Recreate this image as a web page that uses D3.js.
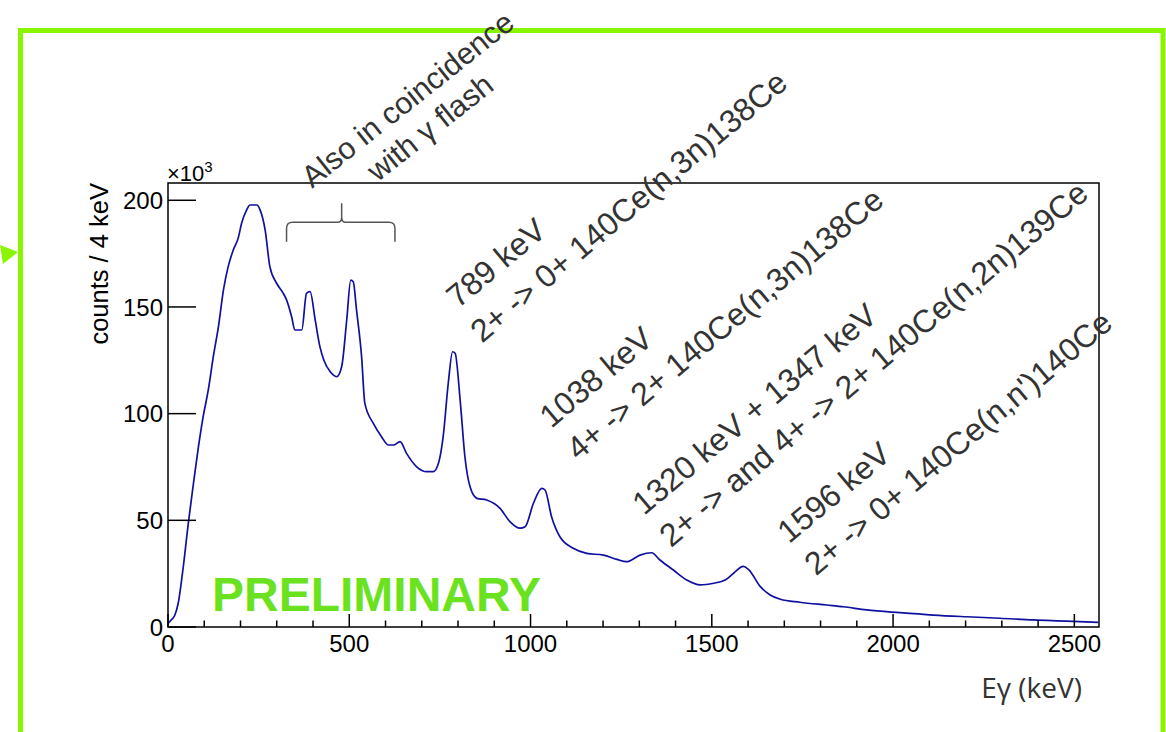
<!DOCTYPE html>
<html>
<head>
<meta charset="utf-8">
<script src="https://cdn.jsdelivr.net/npm/d3@7"></script>
<style>
  html, body { margin: 0; padding: 0; background: #ffffff; }
  svg { display: block; }
</style>
</head>
<body>
<svg id="chart" width="1166" height="732"></svg>
<script>
// ---------------- data (energy in keV, counts in units of 10^3 per 4 keV) ----------------
const energy = [0, 10, 19, 28, 42, 56, 70, 84, 97, 111, 125, 139, 153, 166, 180, 194, 203, 217, 226, 245,
  254, 268, 281, 300, 318, 327, 341, 350, 369, 382, 392, 406, 419, 430, 447, 465, 479, 493, 504, 511,
  520, 534, 543, 566, 589, 608, 622, 640, 658, 686, 714, 732, 746, 759, 773, 785, 792, 806, 819, 833,
  852, 879, 916, 943, 971, 985, 1008, 1031, 1040, 1058, 1081, 1118, 1155, 1201, 1238, 1265, 1302, 1334, 1357, 1394,
  1431, 1468, 1505, 1537, 1560, 1587, 1601, 1634, 1661, 1689, 1743, 1817, 1863, 1927, 2019, 2111, 2203, 2295, 2387, 2479, 2566];
const counts = [1.7, 3.5, 5.6, 11, 28, 48.6, 67, 84.5, 98.6, 111, 126.7, 140.7, 158, 168.9, 176.7, 182.5, 189.2, 195.5, 197.8, 197.8,
  195.5, 186, 168.9, 161, 156.4, 153.3, 145.4, 139.2, 139.2, 156.4, 157.2, 143.9, 131.4, 125, 119.7, 117.3, 122, 143.9, 162.6, 161.8,
  148.6, 126.7, 104.8, 95.5, 89.2, 85.3, 85.3, 86.9, 81.4, 75.1, 72.8, 72.8, 76.7, 89.2, 114.2, 129, 128.3, 106, 79.8, 65.8,
  60.3, 59.5, 55.6, 49.4, 46.3, 47, 58, 65, 64.2, 51.7, 42.3, 36.9, 34.5, 33.7, 31.7, 30.6, 33.7, 34.8, 31.4, 26.7,
  22, 19.7, 20.5, 22, 25.2, 28.4, 27, 18.9, 15, 13, 11.6, 10.3, 9.5, 8, 6.7, 5.6, 4.8, 4.1, 3.3, 2.8, 2.2];

const xMajorTicks = [0, 500, 1000, 1500, 2000, 2500];
const xMinorTicks = d3.range(0, 2600, 100);
const yTicks = [0, 50, 100, 150, 200];

const xTitle = "Eγ (keV)";
const yTitle = "counts / 4 keV";
const yExponent = "3";
const watermark = "PRELIMINARY";

// annotation anchors in data units (keV, 10^3 counts)
const annotationX = [679, 800, 1057, 1313, 1713];
const annotationY = [243.5, 149, 92.8, 52, 38.8];
const annotationLine1 = ["Also in coincidence", "789 keV", "1038 keV", "1320 keV + 1347 keV", "1596 keV"];
const annotationLine2 = ["with γ flash", "2+ -> 0+ 140Ce(n,3n)138Ce", "4+ -> 2+ 140Ce(n,3n)138Ce",
  "2+ -> and 4+ -> 2+ 140Ce(n,2n)139Ce", "2+ -> 0+ 140Ce(n,n')140Ce"];
const annotationAnchor = ["middle", "start", "start", "start", "start"];
const annotationSize = [30.5, 32, 32, 32, 32];

// brace extent (keV, 10^3 counts)
const braceX = [327, 479, 626];
const braceY = [180.6, 189.7, 198.6];

// ---------------- layout ----------------
const svg = d3.select("#chart");
const plot = { left: 168, right: 1099, top: 183, bottom: 627 };
const x = d3.scaleLinear().domain([0, 2568]).range([plot.left, plot.right]);
const y = d3.scaleLinear().domain([0, 208.1]).range([plot.bottom, plot.top]);

svg.append("rect").attr("width", 1166).attr("height", 732).attr("fill", "#ffffff");

// lime frame of the slide
const lime = "#8af500";
svg.append("path")
  .attr("d", "M20.5,740 L20.5,30.5 L1163,30.5 L1163,740")
  .attr("fill", "none").attr("stroke", lime).attr("stroke-width", 5);
svg.append("path")
  .attr("d", "M0,245 L18,252 L3,264 Z")
  .attr("fill", lime);

// watermark
svg.append("text")
  .attr("x", 212).attr("y", 611)
  .attr("font-family", "'Liberation Sans', Arial, Helvetica, sans-serif")
  .attr("font-weight", "bold").attr("font-size", 48)
  .attr("fill", "#6be21f")
  .text(watermark);

// histogram line
const line = d3.line()
  .x((d, i) => x(energy[i]))
  .y((d, i) => y(counts[i]))
  .curve(d3.curveMonotoneX);
svg.append("path")
  .datum(counts)
  .attr("d", line)
  .attr("fill", "none")
  .attr("stroke", "#1010a0")
  .attr("stroke-width", 1.7)
  .attr("stroke-linejoin", "round");

// frame
svg.append("rect")
  .attr("x", plot.left).attr("y", plot.top)
  .attr("width", plot.right - plot.left).attr("height", plot.bottom - plot.top)
  .attr("fill", "none").attr("stroke", "#000").attr("stroke-width", 1.5);

// y ticks
const yLen = 28;
svg.append("g").selectAll("line").data(yTicks).join("line")
  .attr("x1", plot.left).attr("x2", plot.left + yLen)
  .attr("y1", d => y(d)).attr("y2", d => y(d))
  .attr("stroke", "#000").attr("stroke-width", 1.5);
svg.append("g").selectAll("text").data(yTicks).join("text")
  .attr("x", plot.left - 5).attr("y", d => y(d))
  .attr("dy", "0.36em")
  .attr("text-anchor", "end")
  .attr("font-family", "'Liberation Sans', Arial, Helvetica, sans-serif")
  .attr("font-size", 24).attr("fill", "#000")
  .text(d => d);

// x ticks
svg.append("g").selectAll("line").data(xMinorTicks).join("line")
  .attr("x1", d => x(d)).attr("x2", d => x(d))
  .attr("y1", plot.bottom).attr("y2", d => plot.bottom - (d % 500 === 0 ? 13 : 6.5))
  .attr("stroke", "#000").attr("stroke-width", 1.5);
svg.append("g").selectAll("text").data(xMajorTicks).join("text")
  .attr("x", d => x(d)).attr("y", 652)
  .attr("text-anchor", "middle")
  .attr("font-family", "'Liberation Sans', Arial, Helvetica, sans-serif")
  .attr("font-size", 24).attr("fill", "#000")
  .text(d => d);

// exponent
const ex = svg.append("text")
  .attr("x", 167).attr("y", 181)
  .attr("font-family", "'Liberation Sans', Arial, Helvetica, sans-serif")
  .attr("font-size", 22).attr("fill", "#000");
ex.append("tspan").text("×10");
ex.append("tspan").attr("font-size", 15).attr("dy", -9).text(yExponent);

// axis titles
svg.append("text")
  .attr("transform", `translate(108,${plot.top}) rotate(-90)`)
  .attr("text-anchor", "end")
  .attr("font-family", "'Liberation Sans', Arial, Helvetica, sans-serif")
  .attr("font-size", 25.5).attr("fill", "#000")
  .text(yTitle);
svg.append("text")
  .attr("x", 1082).attr("y", 698)
  .attr("text-anchor", "end")
  .attr("font-family", "'Open Sans', 'DejaVu Sans', sans-serif")
  .attr("font-size", 28).attr("fill", "#333")
  .text(xTitle);

// brace
const bx0 = x(braceX[0]), bxc = x(braceX[1]), bx1 = x(braceX[2]);
const by0 = y(braceY[0]), byl = y(braceY[1]), byt = y(braceY[2]);
const bracePath = `M${bx0},${by0} L${bx0},${byl + 6} Q${bx0},${byl} ${bx0 + 6},${byl}` +
  ` L${bxc - 4},${byl} Q${bxc},${byl} ${bxc},${byl - 5} L${bxc},${byt}` +
  ` M${bxc},${byl - 5} Q${bxc},${byl} ${bxc + 4},${byl} L${bx1 - 6},${byl} Q${bx1},${byl} ${bx1},${byl + 6} L${bx1},${by0}`;
svg.append("path").attr("d", bracePath)
  .attr("fill", "none").attr("stroke", "#555").attr("stroke-width", 1.5);

// annotations
const angle = -40;
const lineGap = 42;
annotationX.forEach((ax, i) => {
  const t = svg.append("text")
    .attr("transform", `translate(${x(ax)},${y(annotationY[i])}) rotate(${i === 0 ? -38.5 : angle})`)
    .attr("text-anchor", annotationAnchor[i])
    .attr("font-family", "'Liberation Sans', Arial, Helvetica, sans-serif")
    .attr("font-size", annotationSize[i]).attr("fill", "#333");
  t.append("tspan").attr("x", 0).attr("y", 0).text(annotationLine1[i]);
  t.append("tspan").attr("x", i === 1 ? -4 : 0).attr("y", i === 0 ? 36 : lineGap).text(annotationLine2[i]);
});
</script>
</body>
</html>
